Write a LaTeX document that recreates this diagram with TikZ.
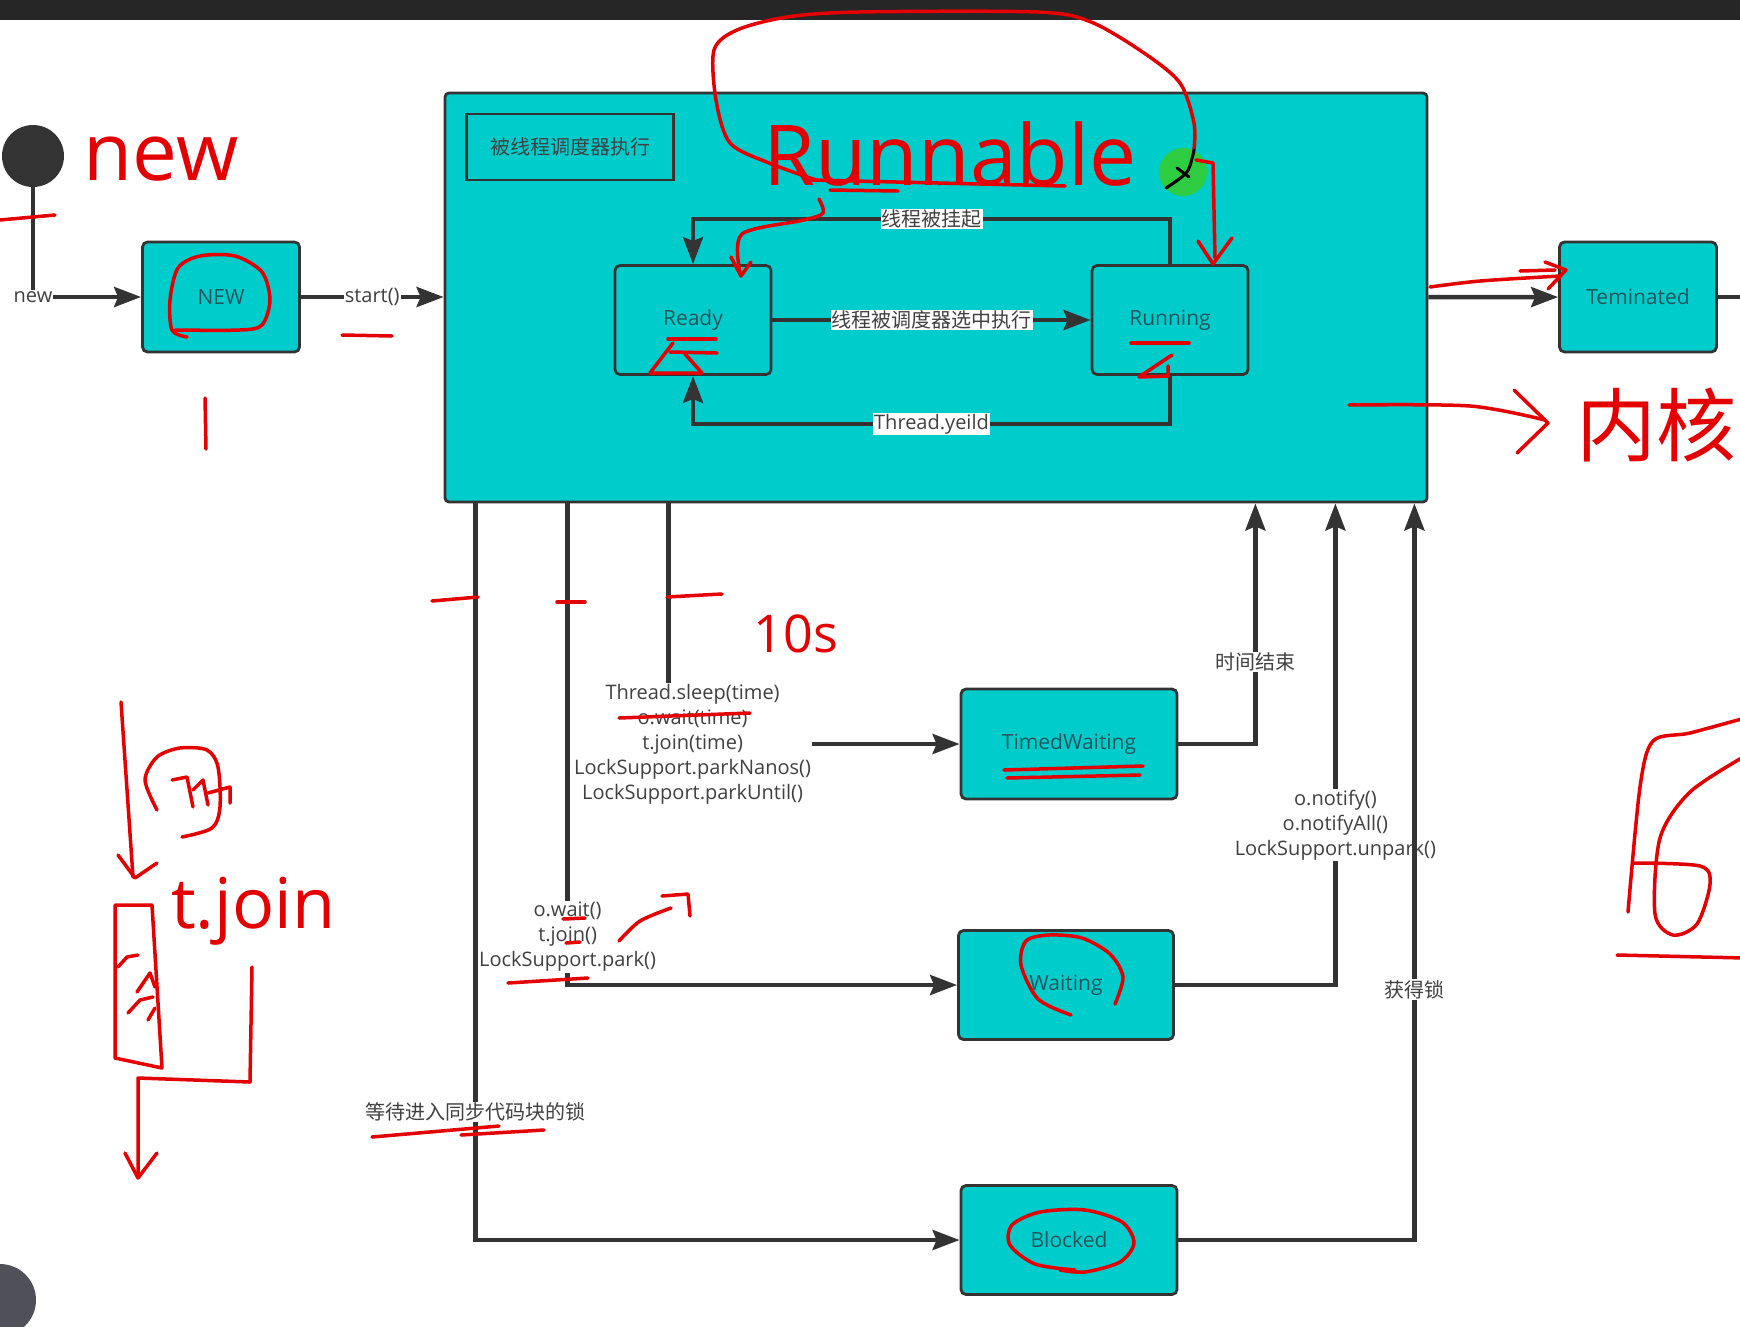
\documentclass[tikz,border=0pt]{standalone}
\usepackage{fontspec}
\setmainfont{Open Sans}
\newfontfamily\cjk{Noto Sans CJK SC}
\usetikzlibrary{arrows.meta}
\definecolor{tealbox}{RGB}{0,204,204}
\definecolor{edgegray}{RGB}{51,51,51}
\definecolor{statetext}{RGB}{32,86,92}
\definecolor{penred}{RGB}{228,0,0}
\definecolor{dotgreen}{RGB}{46,204,64}
\definecolor{barblack}{RGB}{38,38,38}
\definecolor{knobgray}{RGB}{80,80,88}
\newcommand{\lblsize}{\fontsize{20}{25}\selectfont}
\newcommand{\cjklbl}{\cjk\fontsize{20}{25}\selectfont}

\begin{document}
\begin{tikzpicture}[x=1pt,y=-1pt,
  state/.style={draw=edgegray,line width=2.8pt,fill=tealbox,rounded corners=5pt,
    text=statetext,font=\fontsize{21}{25}\selectfont,inner sep=0pt},
  flow/.style={draw=edgegray,line width=4.5pt,-{Stealth[length=27pt,width=20pt,inset=4pt]}},
  wire/.style={draw=edgegray,line width=4.5pt},
  lbl/.style={fill=white,text=black!75,font=\lblsize,inner sep=1pt,align=center},
  pen/.style={draw=penred,line width=3.5pt,line cap=round,line join=round},
  blackpen/.style={draw=black,line width=3pt,line cap=round},
  hand/.style={text=penred,inner sep=0pt}]
\useasboundingbox (0,0) rectangle (1740,1326);
\fill[barblack] (0,0) rectangle (1740,20);
\fill[knobgray] (0,1300) circle[radius=36];

% states
\node[circle,fill=edgegray,minimum size=62pt,inner sep=0pt] (init) at (33,156) {};
\node[state,minimum width=157pt,minimum height=110pt] (newst) at (221,297) {NEW};
\node[state,rounded corners=4pt,minimum width=982pt,minimum height=409pt] (runnable) at (936,297.5) {};
\node[state,sharp corners,minimum width=207pt,minimum height=66pt,font=\cjklbl,text=black!75] (title) at (570,147) {被线程调度器执行};
\node[state,minimum width=156pt,minimum height=109pt] (ready) at (693,320) {Ready};
\node[state,minimum width=156pt,minimum height=109pt] (running) at (1170,320) {Running};
\node[state,minimum width=157pt,minimum height=110pt] (terminated) at (1638,297) {Teminated};
\node[state,minimum width=216pt,minimum height=110pt] (timed) at (1069,744) {TimedWaiting};
\node[state,minimum width=215pt,minimum height=109pt] (waiting) at (1066,985) {Waiting};
\node[state,minimum width=216pt,minimum height=109pt] (blocked) at (1069,1240) {Blocked};
\coordinate (exit) at (1745,297);

% transitions
\draw[flow] (init.south) |- node[lbl,pos=0.5]{new} (newst.west);
\draw[flow] (newst.east) -- node[lbl]{start()} (newst.east -| runnable.west);
\draw[flow] (ready) -- node[lbl,font=\cjklbl]{线程被调度器选中执行} (running);
\draw[flow] (running.north) -- ++(0,-45) -| node[lbl,pos=0.25,font=\cjklbl]{线程被挂起} (ready.north);
\draw[flow] (running.south) -- ++(0,48) -| node[lbl,pos=0.25]{Thread.yeild} (ready.south);
\draw[flow] (runnable) -- (terminated);
\draw[wire] (terminated) -- (exit);

\draw[flow] ([xshift=225pt]runnable.south west) |- node[lbl,pos=0.5,xshift=24pt]{Thread.sleep(time)\\o.wait(time)\\t.join(time)\\LockSupport.parkNanos()\\LockSupport.parkUntil()} (timed.west);
\draw[flow] ([xshift=124pt]runnable.south west) |- node[lbl,pos=0.45]{o.wait()\\t.join()\\LockSupport.park()} (waiting.west);
\draw[flow] ([xshift=32pt]runnable.south west) |- node[lbl,pos=0.413,font=\cjklbl]{等待进入同步代码块的锁} (blocked.west);

\draw[flow] (timed.east) -| node[lbl,pos=0.67,font=\cjklbl]{时间结束} ([xshift=-173pt]runnable.south east);
\draw[flow] (waiting.east) -| node[lbl,pos=0.666]{o.notify()\\o.notifyAll()\\LockSupport.unpark()} ([xshift=-93pt]runnable.south east);
\draw[flow] (blocked.east) -| node[lbl,pos=0.67,font=\cjklbl]{获得锁} ([xshift=-14pt]runnable.south east);

% red pen notes
\fill[dotgreen] (1183,172) circle[radius=24];
\node[hand,font=\fontsize{80}{80}\selectfont,anchor=base] (handnew) at (161,180) {new};
\node[hand,font=\fontsize{84}{84}\selectfont,anchor=base] (handrun) at (950,185) {Runnable};
\node[hand,font=\fontsize{52}{52}\selectfont,anchor=base] (handten) at (796,652) {10s};
\node[hand,font=\fontsize{70}{70}\selectfont,anchor=base] (handjoin) at (253,928) {t.join};
\node[hand,font=\cjk\fontsize{80}{80}\selectfont,anchor=base west] (handcore) at (1576,455) {内核};

\draw[pen] (0,220) -- (55,215);
\draw[pen] plot[smooth] coordinates {(187,337) (172,330) (170,300) (178,268) (200,256) (235,256) (262,272) (270,300) (262,325) (240,330) (175,330)};
\draw[pen] (342,335) -- (392,336);
\draw[pen] (205,398) -- (206,449);
\draw[pen] plot[smooth] coordinates {(816,180) (769,163) (730,143) (716,100) (714,50) (737,30) (787,17) (859,12) (1037,12) (1091,22) (1144,53) (1180,83) (1194,123) (1194,150)};
\draw[blackpen] plot[smooth] coordinates {(1194,150) (1187,172) (1166,188)};
\draw[blackpen] (1177,168) -- (1189,177);
\draw[pen] (812,180) -- (1065,186);
\draw[pen] (830,190) -- (898,191);
\draw[pen] plot[smooth] coordinates {(819,199) (823,213) (804,220) (742,234) (740,272)};
\draw[pen] (731,257) -- (741,276) -- (751,262);
\draw[pen] (1196,160) -- (1213,163) -- (1215,258);
\draw[pen] (1198,241) -- (1213,264) -- (1232,238);
\draw[pen] (668,339) -- (716,339);
\draw[pen] (670,352) -- (717,353);
\draw[pen] (673,343) -- (650,373) -- (702,373) -- (685,354);
\draw[pen] (1131,343) -- (1189,343);
\draw[pen] (1172,355) -- (1139,377) -- (1168,376) -- (1168,366);
\draw[pen] plot[smooth] coordinates {(1430,287) (1480,281) (1560,276)};
\draw[pen] (1520,271) -- (1555,270);
\draw[pen] (1545,262) -- (1566,270) -- (1548,289);
\draw[pen] plot[smooth] coordinates {(1349,405) (1470,406) (1545,420)};
\draw[pen] (1514,390) -- (1548,423) -- (1517,453);
\draw[pen] (432,601) -- (478,597);
\draw[pen] (557,602) -- (585,602);
\draw[pen] (667,597) -- (703,595) -- (722,594);
\draw[pen] (619,718) -- (750,713);
\draw[pen] (1004,770) -- (1143,766);
\draw[pen] (1007,778) -- (1140,775);
\draw[pen] (563,919) -- (585,918);
\draw[pen] (566,943) -- (580,942);
\draw[pen] (508,983) -- (588,978);
\draw[pen] plot[smooth] coordinates {(619,941) (640,921) (671,908)};
\draw[pen] (662,896) -- (688,894) -- (690,916);
\draw[pen] plot[smooth] coordinates {(1071,1015) (1038,999) (1021,965) (1026,941) (1049,935) (1082,938) (1110,954) (1123,977) (1115,1004)};
\draw[pen] plot[smooth] coordinates {(1075,1270) (1035,1264) (1010,1245) (1012,1225) (1040,1212) (1085,1210) (1122,1222) (1134,1243) (1120,1262) (1085,1272) (1060,1270)};
\draw[pen] (372,1137) -- (499,1126);
\draw[pen] (461,1135) -- (544,1130);
\draw[pen] (121,702) -- (133,877);
\draw[pen] (118,855) -- (135,878) -- (157,863);
\draw[pen] plot[smooth] coordinates {(157,810) (145,780) (157,757) (180,748) (207,750) (218,767) (220,807) (212,828) (182,837)};
\draw[pen] (172,780) -- (187,777) -- (193,807);
\draw[pen] (193,790) -- (203,780) -- (208,805);
\draw[pen] (208,793) -- (230,787) -- (230,803);
\draw[pen] (115,905) -- (152,905) -- (162,1068) -- (115,1058) -- cycle;
\draw[pen] (118,967) -- (127,957) -- (138,955);
\draw[pen] (137,992) -- (150,973) -- (155,987);
\draw[pen] (128,1013) -- (140,1000) -- (153,997);
\draw[pen] (148,1020) -- (155,1008);
\draw[pen] (252,967) -- (250,1082) -- (138,1078) -- (138,1177);
\draw[pen] (125,1153) -- (138,1178) -- (157,1153);
\draw[pen] plot[smooth] coordinates {(1628,912) (1640,787) (1653,741) (1690,733) (1745,718)};
\draw[pen] plot[smooth] coordinates {(1745,756) (1690,792) (1660,838) (1655,914) (1673,935) (1697,924) (1710,884) (1700,866) (1633,863)};
\draw[pen] (1617,955) -- (1745,958);
\end{tikzpicture}
\end{document}
